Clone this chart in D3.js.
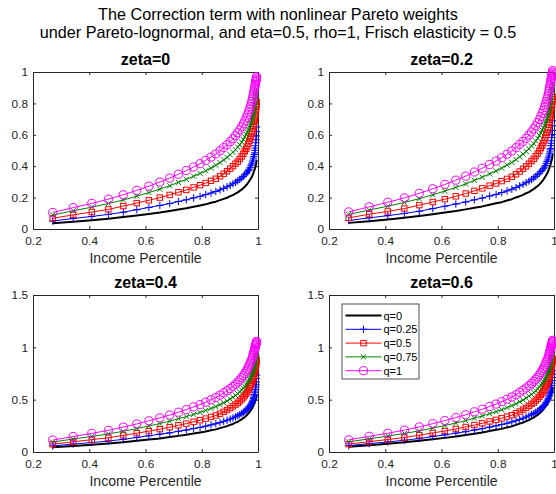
<!DOCTYPE html>
<html><head><meta charset="utf-8">
<script src="https://cdn.jsdelivr.net/npm/d3@7"></script>
<style>
body{margin:0;background:#fff}
text{font-family:"Liberation Sans",Arial,Helvetica,sans-serif}
</style>
</head><body>
<svg id="chart" width="556" height="494"></svg>
<script>
const percentile = [.270,.343,.409,.468,.521,.569,.612,.651,.686,.717,
 .745,.771,.794,.814,.833,.850,.865,.878,.890,.901,
 .911,.920,.928,.935,.942,.948,.953,.958,.962,.966,
 .969,.972,.975,.978,.980,.982,.984,.985,.987,.988,
 .989,.990,.991,.992,.993,.994,.9945,.995];

const seriesNames = ["q=0","q=0.25","q=0.5","q=0.75","q=1"];
const panelTitles = ["zeta=0","zeta=0.2","zeta=0.4","zeta=0.6"];
const xTicks = [0.2,0.4,0.6,0.8,1];
const yTicksTop = [0,0.2,0.4,0.6,0.8,1];
const yTicksBottom = [0,0.5,1,1.5];
const mainTitle = ["The Correction term with nonlinear Pareto weights",
  "under Pareto-lognormal, and eta=0.5, rho=1, Frisch elasticity = 0.5"];
const xLabel = "Income Percentile";

// zeta = 0
const z0_q0 = [.036,.046,.056,.066,.076,.086,.096,.105,.115,.124,.132,.142,.150,.157,.167,.174,.184,.192,.199,.209,.216,.226,.233,.243,.251,.261,.269,.280,.287,.298,.305,.315,.322,.333,.340,.351,.357,.367,.373,.378,.387,.391,.400,.404,.412,.420,.428,.441];
const z0_q025 = [.051,.067,.080,.093,.107,.123,.137,.150,.162,.175,.186,.198,.208,.219,.229,.239,.249,.259,.269,.278,.288,.297,.307,.316,.326,.335,.345,.354,.363,.372,.381,.393,.406,.415,.427,.439,.452,.463,.475,.485,.501,.515,.530,.549,.568,.592,.620,.650];
const z0_q05 = [.068,.090,.108,.125,.146,.165,.183,.200,.217,.234,.249,.265,.279,.293,.307,.320,.336,.352,.368,.384,.400,.416,.429,.446,.462,.479,.496,.510,.526,.543,.560,.576,.589,.606,.622,.638,.654,.669,.683,.697,.710,.722,.735,.751,.762,.778,.794,.810];
const z0_q075 = [.089,.116,.139,.162,.185,.209,.232,.254,.275,.297,.316,.336,.354,.371,.389,.406,.423,.44,.456,.473,.489,.505,.521,.537,.553,.57,.586,.602,.617,.632,.648,.662,.677,.691,.705,.718,.731,.747,.763,.778,.792,.805,.818,.831,.848,.86,.875,.892];
const z0_q1 = [.105,.136,.163,.19,.218,.246,.273,.299,.324,.349,.372,.395,.416,.437,.458,.478,.498,.518,.537,.556,.575,.594,.613,.632,.651,.67,.689,.708,.726,.744,.762,.779,.796,.813,.829,.845,.86,.874,.887,.899,.91,.92,.93,.939,.947,.955,.962,.97];

// zeta = 0.2
const z2_q0 = [.039,.050,.061,.072,.083,.094,.105,.114,.125,.135,.144,.155,.164,.171,.182,.190,.201,.209,.217,.228,.235,.246,.254,.265,.274,.284,.293,.305,.313,.325,.332,.343,.351,.363,.371,.383,.389,.400,.407,.412,.422,.426,.436,.440,.449,.458,.467,.481];
const z2_q025 = [.054,.071,.085,.099,.113,.130,.145,.159,.172,.186,.197,.210,.220,.232,.243,.253,.264,.275,.285,.295,.305,.315,.325,.335,.346,.355,.366,.375,.385,.394,.404,.417,.430,.440,.453,.465,.479,.491,.504,.514,.531,.546,.562,.582,.602,.628,.657,.689];
const z2_q05 = [.071,.094,.112,.130,.152,.172,.190,.208,.226,.243,.259,.276,.290,.305,.319,.333,.349,.366,.383,.399,.416,.433,.446,.464,.480,.498,.516,.530,.547,.565,.582,.599,.613,.630,.647,.664,.680,.696,.710,.725,.738,.751,.764,.781,.792,.809,.826,.842];
const z2_q075 = [.093,.121,.145,.169,.193,.218,.242,.265,.287,.310,.330,.351,.370,.388,.407,.424,.442,.460,.477,.494,.511,.528,.544,.561,.578,.596,.612,.629,.645,.660,.677,.692,.707,.722,.737,.750,.764,.781,.797,.813,.828,.841,.855,.868,.886,.899,.914,.932];
const z2_q1 = [.109,.141,.170,.198,.227,.256,.284,.311,.337,.363,.387,.411,.433,.454,.476,.497,.518,.539,.558,.578,.598,.618,.638,.657,.677,.697,.717,.736,.755,.774,.792,.810,.828,.846,.862,.879,.894,.909,.922,.935,.946,.957,.967,.977,.985,.993,1.0,1.009];

// zeta = 0.4
const z4_q0 = [.045,.057,.069,.082,.094,.107,.119,.130,.143,.154,.164,.176,.186,.195,.207,.216,.228,.238,.247,.259,.268,.280,.289,.301,.311,.324,.334,.347,.356,.370,.378,.391,.399,.413,.422,.435,.443,.455,.463,.469,.480,.485,.496,.501,.511,.521,.531,.547];
const z4_q025 = [.058,.076,.090,.105,.121,.139,.155,.170,.183,.198,.210,.224,.235,.247,.259,.270,.281,.293,.304,.314,.325,.336,.347,.357,.368,.379,.390,.400,.410,.420,.431,.444,.459,.469,.483,.496,.511,.523,.537,.548,.566,.582,.599,.620,.642,.669,.701,.735];
const z4_q05 = [.074,.098,.118,.136,.159,.180,.199,.218,.237,.255,.271,.289,.304,.319,.335,.349,.366,.384,.401,.419,.436,.453,.468,.486,.504,.522,.541,.556,.573,.592,.610,.628,.642,.661,.678,.695,.713,.729,.744,.760,.774,.787,.801,.819,.831,.848,.865,.883];
const z4_q075 = [.095,.124,.149,.173,.198,.224,.248,.272,.294,.318,.338,.360,.379,.397,.416,.434,.453,.471,.488,.506,.523,.540,.557,.575,.592,.610,.627,.644,.660,.676,.693,.708,.724,.739,.754,.768,.782,.799,.816,.832,.847,.861,.875,.889,.907,.920,.936,.954];
const z4_q1 = [.114,.148,.178,.207,.238,.268,.298,.326,.353,.380,.405,.431,.453,.476,.499,.521,.543,.565,.585,.606,.627,.647,.668,.689,.710,.730,.751,.772,.791,.811,.831,.849,.868,.886,.904,.921,.937,.953,.967,.980,.992,1.003,1.014,1.024,1.032,1.041,1.049,1.057];

// zeta = 0.6
const z6_q0 = [.051,.065,.079,.093,.107,.121,.135,.148,.162,.175,.186,.200,.212,.221,.235,.245,.259,.271,.281,.295,.305,.319,.329,.343,.354,.368,.379,.395,.405,.420,.430,.444,.454,.470,.479,.495,.503,.517,.526,.533,.546,.551,.564,.570,.581,.592,.603,.622];
const z6_q025 = [.061,.080,.096,.112,.128,.148,.164,.180,.194,.210,.223,.238,.250,.263,.275,.287,.299,.311,.323,.334,.346,.356,.368,.379,.391,.402,.414,.425,.436,.446,.457,.472,.487,.498,.512,.527,.542,.556,.570,.582,.601,.618,.636,.659,.682,.710,.744,.780];
const z6_q05 = [.075,.099,.119,.138,.161,.182,.201,.220,.239,.257,.274,.292,.307,.322,.338,.352,.370,.387,.405,.422,.440,.458,.472,.491,.508,.527,.546,.561,.579,.597,.616,.634,.648,.667,.684,.702,.719,.736,.751,.767,.781,.794,.809,.826,.838,.856,.873,.891];
const z6_q075 = [.097,.126,.152,.177,.202,.228,.253,.277,.300,.324,.344,.366,.386,.404,.424,.443,.461,.480,.497,.516,.533,.550,.568,.585,.603,.621,.639,.656,.673,.689,.706,.722,.738,.753,.768,.783,.797,.814,.832,.848,.863,.877,.892,.906,.924,.937,.954,.972];
const z6_q1 = [.116,.150,.179,.209,.240,.271,.300,.329,.356,.384,.409,.435,.458,.481,.504,.526,.548,.570,.591,.612,.633,.653,.674,.695,.716,.737,.758,.779,.799,.818,.838,.857,.876,.894,.912,.930,.946,.961,.976,.989,1.001,1.012,1.023,1.033,1.042,1.051,1.058,1.067];

const panelData = [
  [z0_q0,z0_q025,z0_q05,z0_q075,z0_q1],
  [z2_q0,z2_q025,z2_q05,z2_q075,z2_q1],
  [z4_q0,z4_q025,z4_q05,z4_q075,z4_q1],
  [z6_q0,z6_q025,z6_q05,z6_q075,z6_q1]
];

// ---------- layout / style ----------
const styles = [
  {color:"#000000", width:2, marker:null},
  {color:"#0000ff", width:1, marker:"plus"},
  {color:"#ff0000", width:1, marker:"square"},
  {color:"#008000", width:1, marker:"x"},
  {color:"#ff00ff", width:1, marker:"circle"}
];
const panels = [
  {x0:33, x1:258, y0:72, y1:229, yDomain:[0,1], yTicks:yTicksTop},
  {x0:329, x1:554, y0:72, y1:229, yDomain:[0,1], yTicks:yTicksTop},
  {x0:33, x1:258, y0:295, y1:452, yDomain:[0,1.5], yTicks:yTicksBottom},
  {x0:329, x1:554, y0:295, y1:452, yDomain:[0,1.5], yTicks:yTicksBottom}
];
const axisColor = "#262626";
const svg = d3.select("#chart");
svg.append("rect").attr("width",556).attr("height",494).attr("fill","#fff");

svg.append("text").attr("x",278).attr("y",19.5).attr("text-anchor","middle")
  .attr("font-size","16.2px").attr("fill","#000").text(mainTitle[0]);
svg.append("text").attr("x",278).attr("y",37.5).attr("text-anchor","middle")
  .attr("font-size","16.2px").attr("fill","#000").text(mainTitle[1]);

function drawMarker(g, type, color){
  if(type==="plus"){
    g.append("path").attr("d","M-3.7,0H3.7M0,-3.7V3.7").attr("stroke",color).attr("stroke-width",1).attr("fill","none");
  } else if(type==="square"){
    g.append("rect").attr("x",-2.7).attr("y",-2.7).attr("width",5.4).attr("height",5.4).attr("stroke",color).attr("stroke-width",1).attr("fill","none");
  } else if(type==="x"){
    g.append("path").attr("d","M-2.6,-2.6L2.6,2.6M-2.6,2.6L2.6,-2.6").attr("stroke",color).attr("stroke-width",1).attr("fill","none");
  } else if(type==="circle"){
    g.append("circle").attr("r",4.1).attr("stroke",color).attr("stroke-width",1).attr("fill","none");
  }
}

panels.forEach((p,pi)=>{
  const x = d3.scaleLinear().domain([0.2,1]).range([p.x0,p.x1]);
  const y = d3.scaleLinear().domain(p.yDomain).range([p.y1,p.y0]);
  const g = svg.append("g");
  g.append("rect").attr("x",p.x0).attr("y",p.y0).attr("width",p.x1-p.x0).attr("height",p.y1-p.y0).attr("fill","#fff");

  const fmt = d => String(d);
  const ax = (gen, tr) => {
    const a = g.append("g").attr("transform",tr).call(gen);
    a.select(".domain").attr("stroke",axisColor);
    a.selectAll(".tick line").attr("stroke",axisColor);
    a.selectAll(".tick text").attr("fill",axisColor).attr("font-size","11.8px")
      .attr("font-family",'"Liberation Sans",Arial,sans-serif');
    return a;
  };
  ax(d3.axisBottom(x).tickValues(xTicks).tickFormat(fmt).tickSizeInner(-3).tickSizeOuter(0).tickPadding(8), `translate(0,${p.y1})`);
  ax(d3.axisLeft(y).tickValues(p.yTicks).tickFormat(fmt).tickSizeInner(-3).tickSizeOuter(0).tickPadding(5), `translate(${p.x0},0)`);
  ax(d3.axisTop(x).tickValues(xTicks).tickFormat("").tickSizeInner(-3).tickSizeOuter(0), `translate(0,${p.y0})`);
  ax(d3.axisRight(y).tickValues(p.yTicks).tickFormat("").tickSizeInner(-3).tickSizeOuter(0), `translate(${p.x1},0)`);

  g.append("text").attr("x",(p.x0+p.x1)/2).attr("y",p.y0-7).attr("text-anchor","middle")
    .attr("font-size","16px").attr("font-weight","bold").attr("fill","#000").text(panelTitles[pi]);
  g.append("text").attr("x",(p.x0+p.x1)/2).attr("y",p.y1+34).attr("text-anchor","middle")
    .attr("font-size","14px").attr("fill",axisColor).text(xLabel);

  const line = d3.line().x((d,i)=>x(percentile[i])).y(d=>y(d));
  panelData[pi].forEach((vals,si)=>{
    const s = styles[si];
    g.append("path").datum(vals).attr("d",line).attr("fill","none")
      .attr("stroke",s.color).attr("stroke-width",s.width).attr("stroke-linejoin","round");
    if(s.marker){
      vals.forEach((v,i)=>{
        const mg = g.append("g").attr("transform",`translate(${x(percentile[i])},${y(v)})`);
        drawMarker(mg,s.marker,s.color);
      });
    }
  });
});

// legend in zeta=0.6 panel
const lg = svg.append("g");
const lx = 342, ly = 304, lw = 77, lh = 75;
lg.append("rect").attr("x",lx).attr("y",ly).attr("width",lw).attr("height",lh)
  .attr("fill","#fff").attr("stroke",axisColor).attr("stroke-width",0.8);
seriesNames.forEach((name,i)=>{
  const cy = ly + 11.5 + i*13.8;
  const s = styles[i];
  lg.append("line").attr("x1",lx+3.5).attr("x2",lx+39.5).attr("y1",cy).attr("y2",cy)
    .attr("stroke",s.color).attr("stroke-width",s.width);
  if(s.marker){
    const mg = lg.append("g").attr("transform",`translate(${lx+21.5},${cy})`);
    drawMarker(mg,s.marker,s.color);
  }
  lg.append("text").attr("x",lx+41.5).attr("y",cy+4).attr("font-size","11px").attr("fill","#000").text(name);
});
</script>
</body></html>
